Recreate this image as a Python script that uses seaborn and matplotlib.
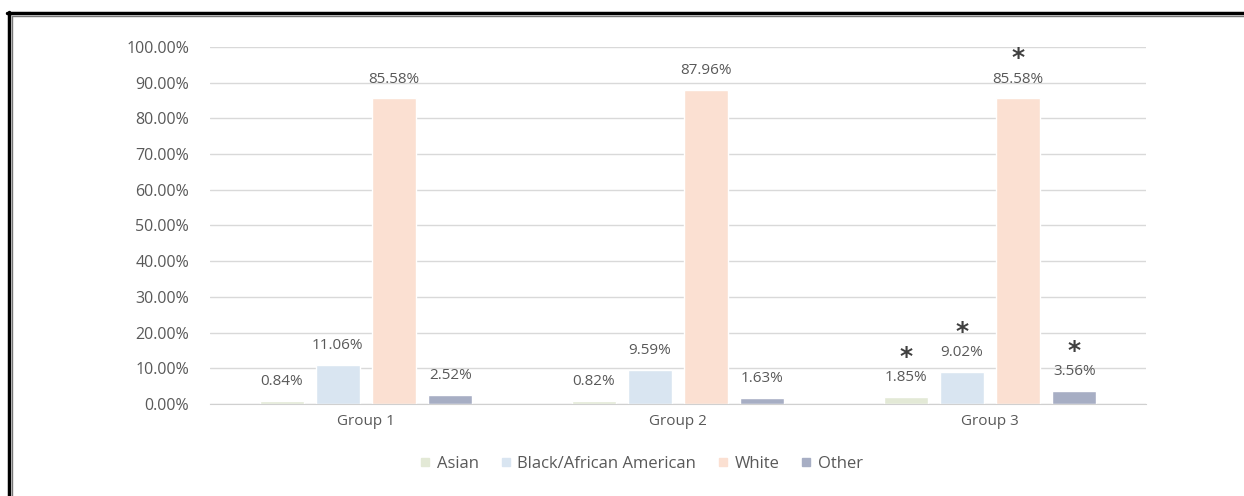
import numpy as np
import pandas as pd
import seaborn as sns
import matplotlib.pyplot as plt
from matplotlib.ticker import FuncFormatter, MultipleLocator
from matplotlib.lines import Line2D

# 数据
groups = ['Group 1', 'Group 2', 'Group 3']
races = ['Asian', 'Black/African American', 'White', 'Other']
asian = [0.84, 0.82, 1.85]
black = [11.06, 9.59, 9.02]
white = [85.58, 87.96, 85.58]
other = [2.52, 1.63, 3.56]
# 显著性标记 (Group 3)
stars = [[False, False, True], [False, False, True], [False, False, True], [False, False, True]]

colors = ['#e3e9d6', '#d9e5f1', '#fbe0d2', '#a7aec4']
text_color = '#595959'
fs = 11

rows = []
for race, vals in zip(races, [asian, black, white, other]):
    for g, v in zip(groups, vals):
        rows.append({'group': g, 'race': race, 'value': v})
df = pd.DataFrame(rows)

sns.set_style('white')
plt.rcParams['font.family'] = ['Open Sans', 'DejaVu Sans']

fig = plt.figure(figsize=(12.44, 4.96), dpi=100)
ax = fig.add_axes([0.1688, 0.1855, 0.7524, 0.7198])

sns.barplot(data=df, x='group', y='value', hue='race', hue_order=races,
            order=groups, palette=colors, width=0.72, gap=0.21,
            saturation=1, legend=False, ax=ax, errorbar=None)

ax.set_ylim(0, 100)
ax.set_xlim(-0.5, 2.5)
ax.yaxis.set_major_locator(MultipleLocator(10))
ax.yaxis.set_major_formatter(FuncFormatter(lambda y, _: f'{y:.2f}%'))
ax.grid(axis='y', color='#d9d9d9', linewidth=1)
ax.set_axisbelow(True)
for s in ['top', 'right', 'left']:
    ax.spines[s].set_visible(False)
ax.spines['bottom'].set_color('#d0d0d0')
ax.tick_params(axis='both', length=0, labelsize=fs, colors=text_color)
ax.tick_params(axis='y', pad=15, labelsize=11.5)
ax.tick_params(axis='x', pad=7)
ax.set_xlabel('')
ax.set_ylabel('')

# 数值标签和星号
for container, race_stars in zip(ax.containers, stars):
    for bar, st in zip(container, race_stars):
        x = bar.get_x() + bar.get_width() / 2
        h = bar.get_height()
        ax.annotate(f'{h:.2f}%', xy=(x, h), xytext=(0, 14), textcoords='offset points',
                    ha='center', va='center', fontsize=fs, color=text_color)
        if st:
            ax.annotate('*', xy=(x, h), xytext=(0, 29), textcoords='offset points',
                        ha='center', va='center', fontsize=18, color='#404040',
                        family='DejaVu Sans', fontweight='bold')

# 图例
handles = [Line2D([0], [0], marker='s', linestyle='', markersize=6,
                  markerfacecolor=c, markeredgecolor=c) for c in colors]
fig.legend(handles, races, loc='center', bbox_to_anchor=(0.515, 0.064), ncol=4,
           frameon=False, fontsize=12, labelcolor=text_color,
           handletextpad=0.3, columnspacing=1.2, handlelength=0.8)

# 边框
fig.add_artist(Line2D([8.5 / 1244, 8.5 / 1244], [0, 1 - 12 / 496], color='black', linewidth=2.5,
                      transform=fig.transFigure))
fig.add_artist(Line2D([7.5 / 1244, 1], [1 - 13 / 496, 1 - 13 / 496], color='black', linewidth=2.5,
                      transform=fig.transFigure))
fig.add_artist(Line2D([12 / 1244, 12 / 1244], [0, 1 - 16 / 496], color='#777777', linewidth=1,
                      transform=fig.transFigure))
fig.add_artist(Line2D([12 / 1244, 1], [1 - 16 / 496, 1 - 16 / 496], color='#777777', linewidth=1,
                      transform=fig.transFigure))

fig.savefig('out.png', dpi=100)
